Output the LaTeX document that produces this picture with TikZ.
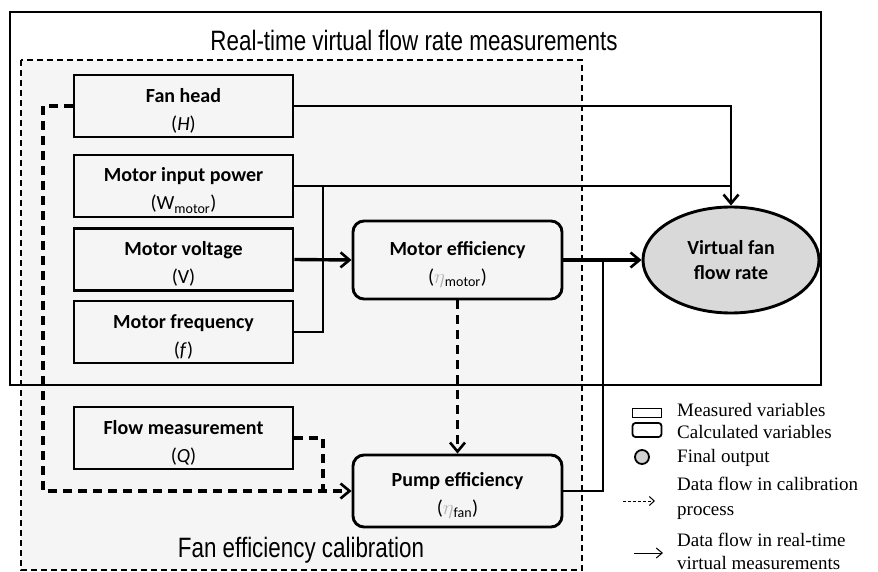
\documentclass[tikz,border=0pt]{standalone}
\usepackage{fontspec}
\setmainfont{Carlito}
\newfontfamily\titlefont[FakeStretch=0.8]{Liberation Sans}
\newfontfamily\legfont{Liberation Serif}
\usetikzlibrary{arrows.meta,shapes.geometric}
\newcommand\myup{\rule{0pt}{23pt}}
\tikzset{
  meas/.style={draw, line width=2.9pt, minimum width=219pt, minimum height=62pt, align=center,
    font=\fontsize{20}{28}\selectfont, inner sep=0pt},
  calc/.style={meas, rounded corners=11pt, minimum width=209pt, minimum height=78pt},
  sl/.style={line width=2.4pt},
  thk/.style={line width=3.4pt},
  dsh/.style={line width=3.2pt, dash pattern=on 9pt off 6pt},
  tip/.style={-{Straight Barb[length=9pt,width=15pt,line width=2.6pt]}},
  legtxt/.style={anchor=west, font=\legfont\fontsize{19}{20}\selectfont, inner sep=0pt},
  ttl/.style={font=\titlefont\fontsize{28}{30}\selectfont, inner sep=0pt}
}
\begin{document}
\begin{tikzpicture}[x=1pt,y=-1pt]
\useasboundingbox (0,0) rectangle (878,572);
% calibration region
\draw[fill=gray!8, line width=1.8pt, dash pattern=on 6pt off 4pt] (21,60) rectangle (582,570);
% real-time region
\draw[line width=2pt] (10,12) rectangle (821,385);
\node[ttl] (t1) at (414,40) {Real-time virtual flow rate measurements};
\node[ttl] (t2) at (301,550) {Fan efficiency calibration};
% measured variables
\node[meas] (fan) at (183.5,106) {\myup\textbf{Fan head}\\(\textit{H})};
\node[meas] (mip) at (183.5,186) {\myup\textbf{Motor input power}\\(W\textsubscript{motor})};
\node[meas] (mv) at (183.5,259.5) {\myup\textbf{Motor voltage}\\(V)};
\node[meas] (mf) at (183.5,332) {\myup\textbf{Motor frequency}\\(\textit{f})};
\node[meas] (flow) at (183.5,438) {\myup\textbf{Flow measurement}\\(\textit{Q})};
% calculated variables
\node[calc] (me) at (457.5,260) {\myup\textbf{Motor efficiency}\\(\textcolor{gray!60}{$\eta$}\textsubscript{motor})};
\node[calc, minimum height=72pt] (pe) at (457.5,491) {\myup\textbf{Pump efficiency}\\(\textcolor{gray!60}{$\eta$}\textsubscript{fan})};
% final output
\node[draw, ellipse, line width=2.9pt, fill=gray!30, minimum width=176pt, minimum height=106pt,
  align=center, font=\fontsize{20}{25}\selectfont, inner sep=0pt] (vf) at (731,260)
  {\textbf{Virtual fan}\\\textbf{flow rate}};
% junctions
\coordinate (jx) at (323,0);
\coordinate (px) at (603,0);
\coordinate (lx) at (43,0);
% real-time connectors
\draw[sl, tip] (fan.east) -| (vf.north);
\draw[sl] (mip.east) -- (mip.east -| vf.north);
\draw[sl] (mip.east -| jx) |- (mf.east);
\draw[thk, tip] (mv.east) -- (me.west);
\draw[thk, tip] (me.east) -- (vf.west);
\draw[sl] (pe.east) -| (px |- me.east);
% calibration connectors
\draw[dsh, tip] (me.south) -- (pe.north);
\draw[dsh, tip] (fan.west) -- (fan.west -| lx) |- (pe.west);
\draw[dsh] (flow.east) -| (jx |- pe.west);
% legend
\node[draw, line width=1.8pt, minimum width=29pt, minimum height=9pt, inner sep=0pt] (lg1) at (647,413) {};
\node[draw, line width=1.8pt, rounded corners=3pt, minimum width=29pt, minimum height=14pt, inner sep=0pt] (lg2) at (647,430) {};
\node[draw, circle, line width=1.8pt, fill=gray!35, minimum size=14pt, inner sep=0pt] (lg3) at (642,457) {};
\coordinate (la1) at (623,501);
\coordinate (lb1) at (655,501);
\coordinate (la2) at (634,553);
\coordinate (lb2) at (663,553);
\draw[line width=1pt, dash pattern=on 3pt off 2pt, -{Straight Barb[length=5pt,width=9pt]}] (la1) -- (lb1);
\draw[line width=1pt, -{Straight Barb[length=6pt,width=10pt]}] (la2) -- (lb2);
\node[legtxt] (l1) at (677,410) {Measured variables};
\node[legtxt] (l2) at (677,432) {Calculated variables};
\node[legtxt] (l3) at (677,458) {Final output};
\node[legtxt] (l4) at (677,484) {Data flow in calibration};
\node[legtxt] (l5) at (677,513) {process};
\node[legtxt] (l6) at (677,540) {Data flow in real-time};
\node[legtxt] (l7) at (677,563) {virtual measurements};
\end{tikzpicture}
\end{document}
